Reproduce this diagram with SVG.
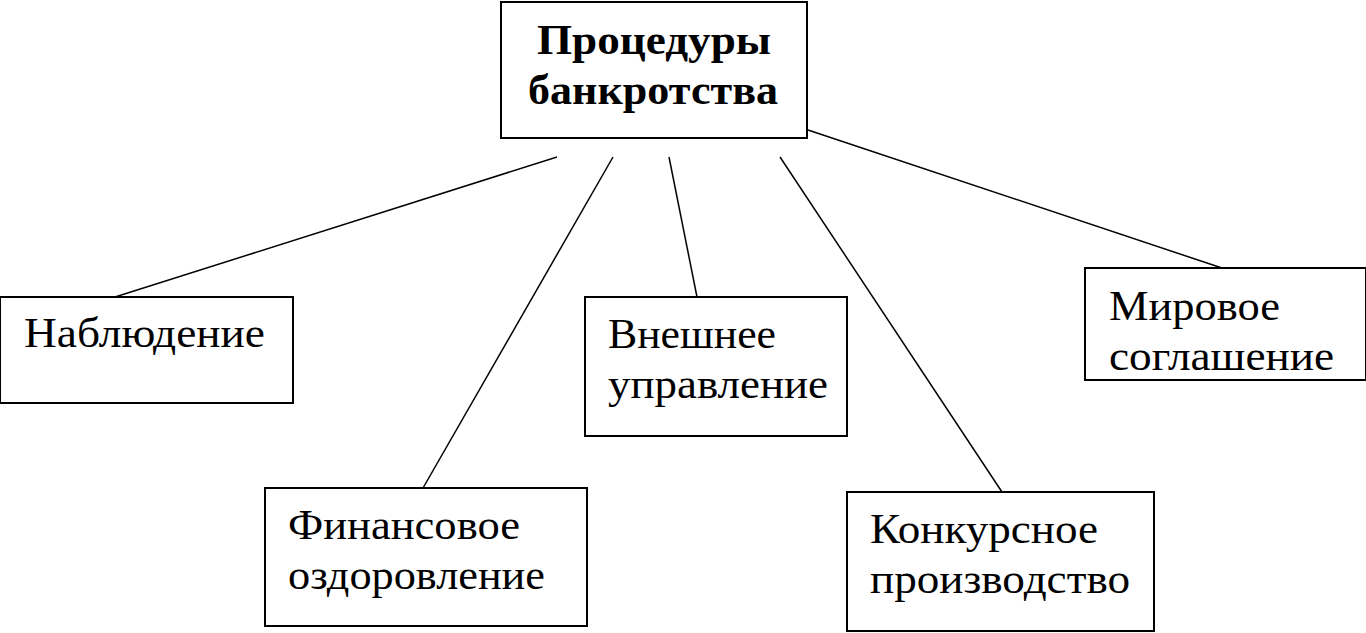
<svg xmlns="http://www.w3.org/2000/svg" width="1366" height="633" viewBox="0 0 1366 633">
<style>
rect{fill:#fff;stroke:#000;stroke-width:2}
line{stroke:#000;stroke-width:1.5}
text{font-family:"Liberation Serif",serif;font-size:42px;fill:#000}
.b{font-weight:bold}
</style>
<rect x="0" y="0" width="1366" height="633" style="stroke:none"/>
<g id="connectors">
<line x1="557" y1="157" x2="115" y2="297"/>
<line x1="613" y1="157" x2="423" y2="488"/>
<line x1="669" y1="157" x2="697" y2="297"/>
<line x1="780" y1="157" x2="1002" y2="492"/>
<line x1="808" y1="130" x2="1222" y2="268"/>
</g>
<g id="root"><rect x="501" y="2" width="306" height="136"/>
<text class="b" x="537" y="54" textLength="234" lengthAdjust="spacingAndGlyphs">Процедуры</text>
<text class="b" x="528" y="104" textLength="250" lengthAdjust="spacingAndGlyphs">банкротства</text></g>
<g id="n1"><rect x="0" y="297" width="293" height="106"/><text x="24" y="347" textLength="241" lengthAdjust="spacingAndGlyphs">Наблюдение</text></g>
<g id="n2"><rect x="265" y="488" width="322" height="138"/><text x="288" y="539" textLength="232" lengthAdjust="spacingAndGlyphs">Финансовое</text><text x="288" y="589" textLength="257" lengthAdjust="spacingAndGlyphs">оздоровление</text></g>
<g id="n3"><rect x="585" y="297" width="262" height="139"/><text x="608" y="348" textLength="168" lengthAdjust="spacingAndGlyphs">Внешнее</text><text x="608" y="398" textLength="220" lengthAdjust="spacingAndGlyphs">управление</text></g>
<g id="n4"><rect x="847" y="492" width="307" height="139"/><text x="870" y="543" textLength="228" lengthAdjust="spacingAndGlyphs">Конкурсное</text><text x="870" y="593" textLength="260" lengthAdjust="spacingAndGlyphs">производство</text></g>
<g id="n5"><rect x="1085" y="268" width="281" height="112"/><text x="1109" y="320" textLength="171" lengthAdjust="spacingAndGlyphs">Мировое</text><text x="1109" y="370" textLength="225" lengthAdjust="spacingAndGlyphs">соглашение</text></g>
</svg>
